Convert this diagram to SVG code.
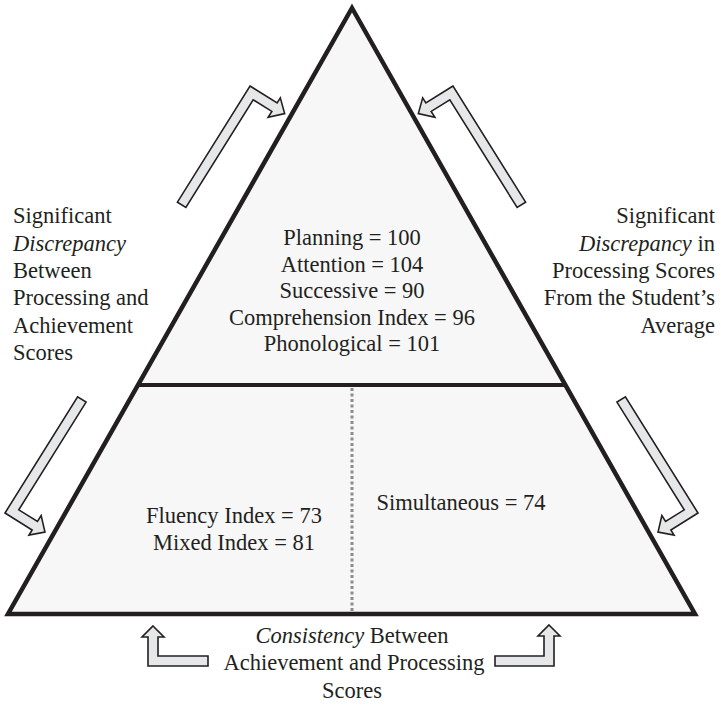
<svg xmlns="http://www.w3.org/2000/svg" width="721" height="705" viewBox="0 0 721 705">
<style>
.t{font-family:"Liberation Serif","Tinos","Times New Roman","Times","Nimbus Roman","Nimbus Roman No9 L","FreeSerif","Noto Serif","DejaVu Serif",serif;font-size:22.5px;fill:#231f20}
.m{text-anchor:middle}
.e{text-anchor:end}
.i{font-style:italic}
.arr{fill:#e6e7e8;stroke:#231f20;stroke-width:1.6;stroke-linejoin:miter}
</style>
<defs>
<path id="bent" d="M0,0 L32,0 L32,-6 L44,5 L32,17 L32,10 L10,10 L10,137 L0,137 Z"/>
</defs>
<rect width="721" height="705" fill="#ffffff"/>
<g id="pyramid">
<polygon points="352,8 695,614 8,614" fill="#f7f7f7" stroke="#231f20" stroke-width="4.5" stroke-linejoin="miter"/>
<line x1="139" y1="385" x2="567" y2="385" stroke="#231f20" stroke-width="4"/>
<line x1="352" y1="388" x2="352" y2="612" stroke="#8c8c8c" stroke-width="3" stroke-dasharray="3,2.5"/>
</g>
<g id="top-node">
<text class="t m" x="352" y="245">Planning = 100</text>
<text class="t m" x="352" y="272">Attention = 104</text>
<text class="t m" x="352" y="298">Successive = 90</text>
<text class="t m" x="352" y="325">Comprehension Index = 96</text>
<text class="t m" x="352" y="351">Phonological = 101</text>
</g>
<g id="bottom-left-node">
<text class="t m" x="234" y="523">Fluency Index = 73</text>
<text class="t m" x="234" y="550">Mixed Index = 81</text>
</g>
<g id="bottom-right-node">
<text class="t m" x="461" y="510">Simultaneous = 74</text>
</g>
<g id="left-label">
<text class="t" x="13" y="223">Significant</text>
<text class="t i" x="13" y="251">Discrepancy</text>
<text class="t" x="13" y="278">Between</text>
<text class="t" x="13" y="305">Processing and</text>
<text class="t" x="13" y="333">Achievement</text>
<text class="t" x="13" y="360">Scores</text>
</g>
<g id="right-label">
<text class="t e" x="715" y="223">Significant</text>
<text class="t e" x="715" y="251"><tspan class="i">Discrepancy</tspan> in</text>
<text class="t e" x="715" y="278">Processing Scores</text>
<text class="t e" x="715" y="305">From the Student’s</text>
<text class="t e" x="715" y="333">Average</text>
</g>
<g id="bottom-label">
<text class="t m" x="352" y="643"><tspan class="i">Consistency</tspan> Between</text>
<text class="t m" x="354" y="670">Achievement and Processing</text>
<text class="t m" x="352" y="698">Scores</text>
</g>
<g id="connectors">
<use href="#bent" class="arr" transform="translate(250,86) rotate(32)"/>
<use href="#bent" class="arr" transform="translate(453,86) scale(-1,1) rotate(32)"/>
<use href="#bent" class="arr" transform="translate(5,513) rotate(32) scale(1,-1)"/>
<use href="#bent" class="arr" transform="translate(698,513) scale(-1,1) rotate(32) scale(1,-1)"/>
<polygon class="arr" points="153,626 164,637 158,637 158,656 208,656 208,666 148,666 148,637 142,637"/>
<polygon class="arr" points="549,625 560,636 554,636 554,666 495,666 495,656 544,656 544,636 538,636"/>
</g>
</svg>
